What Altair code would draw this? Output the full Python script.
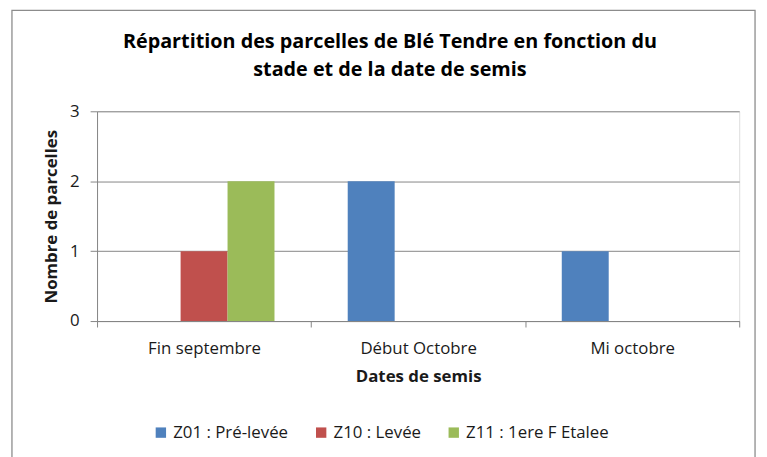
import altair as alt
import pandas as pd

categories = ["Fin septembre", "Début Octobre", "Mi octobre"]
series = ["Z01 : Pré-levée", "Z10 : Levée", "Z11 : 1ere F Etalee"]
z01 = [0, 2, 1]
z10 = [1, 0, 0]
z11 = [2, 0, 0]
colors = ["#4F81BD", "#C0504D", "#9BBB59"]
title_lines = ["Répartition des parcelles de Blé Tendre en fonction du",
               "stade et de la date de semis"]

rows = []
for s, vals in zip(series, [z01, z10, z11]):
    for c, v in zip(categories, vals):
        rows.append({"Date": c, "Stade": s, "Nombre": v})
df = pd.DataFrame(rows)

FONT = "Open Sans"
TXT = "#1a1a1a"

bars = alt.Chart(df).mark_bar().encode(
    x=alt.X("Date:N", sort=categories,
            scale=alt.Scale(paddingInner=0, paddingOuter=0),
            axis=alt.Axis(title="Dates de semis", labelAngle=0, tickBand="extent",
                          grid=False, domainColor="#868686", tickColor="#868686",
                          tickSize=6, labelPadding=14, labelFontSize=17,
                          titleFontSize=17, titleFontWeight="bold", titlePadding=12,
                          labelColor=TXT, titleColor=TXT, labelFont=FONT, titleFont=FONT)),
    xOffset=alt.XOffset("Stade:N", sort=series,
                        scale=alt.Scale(paddingInner=0, paddingOuter=0.78)),
    y=alt.Y("Nombre:Q", scale=alt.Scale(domain=[0, 3], nice=False),
            axis=alt.Axis(title="Nombre de parcelles", values=[0, 1, 2, 3], format="d",
                          grid=True, gridColor="#868686", domainColor="#868686",
                          tickColor="#868686", tickSize=7, labelPadding=11,
                          labelFontSize=17, titleFontSize=17, titleFontWeight="bold",
                          titlePadding=9, labelColor=TXT, titleColor=TXT,
                          labelFont=FONT, titleFont=FONT)),
    color=alt.Color("Stade:N", sort=series,
                    scale=alt.Scale(domain=series, range=colors),
                    legend=alt.Legend(title=None, orient="none", direction="horizontal",
                                      legendX=56, legendY=316, symbolType="square",
                                      symbolSize=110, symbolStrokeWidth=0,
                                      labelFontSize=17, labelFont=FONT, labelColor=TXT,
                                      labelOffset=4, columnPadding=24)),
)

frame = alt.Chart(pd.DataFrame({"a": [0]})).mark_rect(
    fill=None, stroke="#8c8c8c", strokeWidth=1.3
).encode(x=alt.value(-86), x2=alt.value(665), y=alt.value(-102), y2=alt.value(360))

base_txt = alt.Chart(pd.DataFrame({"a": [0]}))
t1 = base_txt.mark_text(font=FONT, fontSize=20, fontWeight="bold", color="#000000",
                        align="center", baseline="alphabetic").encode(
    x=alt.value(296), y=alt.value(-64), text=alt.value(title_lines[0]))
t2 = base_txt.mark_text(font=FONT, fontSize=20, fontWeight="bold", color="#000000",
                        align="center", baseline="alphabetic").encode(
    x=alt.value(296), y=alt.value(-36), text=alt.value(title_lines[1]))

chart = alt.layer(frame, bars, t1, t2).properties(
    width=649, height=212,
    padding={"left": 90, "top": 102, "right": 20, "bottom": 135},
    autosize=alt.AutoSizeParams(type="none"),
).configure_view(stroke=None).configure(background="white")

chart.save("out.html", embed_options={"renderer": "svg", "actions": False})
